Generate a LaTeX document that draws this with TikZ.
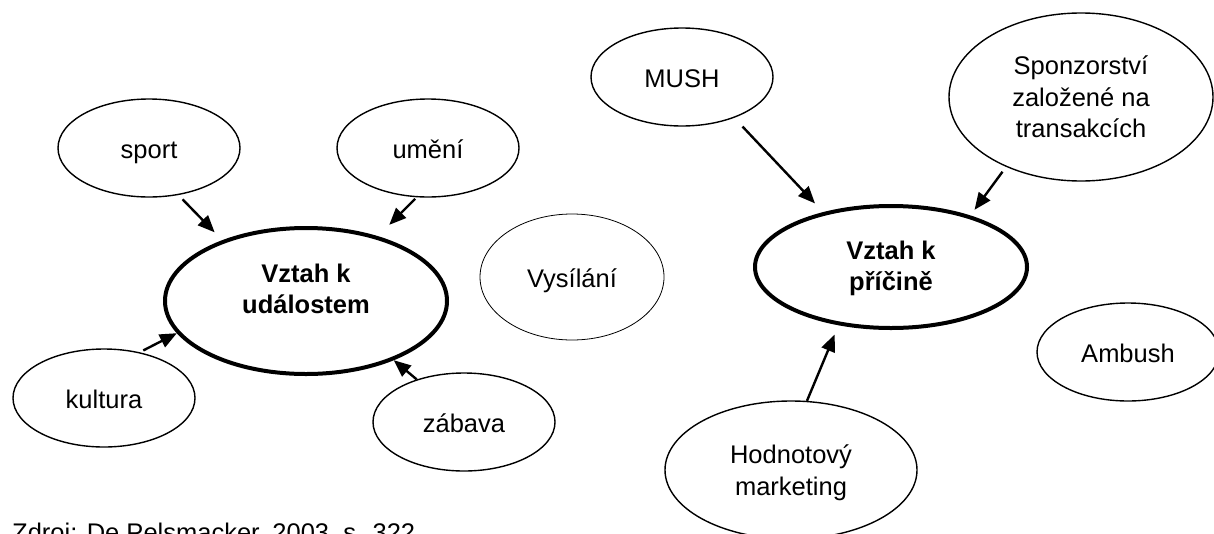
\documentclass[tikz,border=0pt]{standalone}
\usepackage{fontspec}
\setmainfont{Liberation Sans}
\usetikzlibrary{arrows.meta, shapes.geometric}

\begin{document}
\begin{tikzpicture}[
    x=1pt, y=-1pt,
    >={Triangle[length=17pt, width=14pt]},
    bubble/.style={ellipse, draw, line width=1.4pt, inner sep=0pt, align=center,
        font=\fontsize{25.5}{31.5}\selectfont},
    word/.style={bubble, text height=20pt, text depth=0pt},
    small/.style={word, minimum width=182pt, minimum height=98pt},
    core/.style={bubble, line width=4pt, font=\fontsize{25.5}{31.5}\selectfont\bfseries},
    link/.style={draw, ->, line width=2.4pt},
]
    \useasboundingbox (0,0) rectangle (1214,533);

    % events side
    \node[small] (sport)   at (149,148) {sport};
    \node[small] (umeni)   at (428,148) {umění};
    \node[small] (kultura) at (104,398) {kultura};
    \node[small] (zabava)  at (464,422) {zábava};
    \node[core, minimum width=282pt, minimum height=146pt, text depth=24pt]
        (udalosti) at (306,301) {Vztah k\\událostem};
    \node[word, line width=0.8pt, minimum width=184pt, minimum height=126pt]
        (vysilani) at (572,277) {Vysílání};

    % cause side
    \node[small] (mush)    at (682,77)  {MUSH};
    \node[bubble, minimum width=264pt, minimum height=168pt, text depth=0pt]
        (sponzor) at (1081,97) {Sponzorství\\založené na\\transakcích};
    \node[core, minimum width=272pt, minimum height=122pt, text depth=2pt]
        (pricina) at (891,267) {Vztah k\\příčině};
    \node[small] (ambush)  at (1128,352) {Ambush};
    \node[bubble, minimum width=252pt, minimum height=138pt, text depth=0pt]
        (hodnota) at (791,470) {Hodnotový\\marketing};

    \node[anchor=base west, inner sep=0pt, font=\fontsize{25.5}{31.5}\selectfont]
        (zdroj) at (12,541) {Zdroj: De Pelsmacker, 2003, s. 322};

    \path
        (sport.-58)   edge [link, shorten <=6pt, shorten >=11pt] (udalosti.144)
        (umeni.-103)  edge [link, shorten <=2pt, shorten >=16pt] (udalosti.42)
        (kultura.52)  edge [link, shorten <=4pt]                 (udalosti.-166)
        (zabava.138)  edge [link]                                (udalosti.-34)
        (mush.-38)    edge [link, shorten <=12pt, shorten >=12pt] (pricina.141)
        (sponzor.-137) edge [link, shorten <=6pt, shorten >=7pt] (pricina.33)
        (hodnota.77)  edge [link, shorten >=10pt]                (pricina.-132)
    ;
\end{tikzpicture}
\end{document}
